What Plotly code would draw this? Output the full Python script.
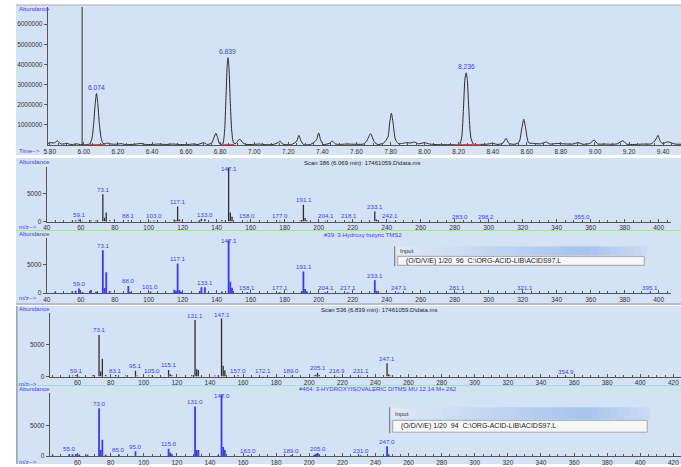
import plotly.graph_objects as go

W, H = 681, 467

# ---------------- DATA ----------------
# Total ion chromatogram (time in min, abundance)
tic_time = [5.790, 5.805, 5.820, 5.835, 5.845, 5.855, 5.870, 5.885, 5.900, 5.915, 5.935, 5.960, 5.980, 6.000,
            6.020, 6.035, 6.048, 6.058, 6.066, 6.074, 6.082, 6.090, 6.100, 6.112, 6.125, 6.140, 6.155, 6.175,
            6.200, 6.220, 6.240, 6.270, 6.300, 6.335, 6.360, 6.400, 6.440, 6.480, 6.520, 6.560, 6.600, 6.640,
            6.670, 6.705, 6.725, 6.750, 6.765, 6.775, 6.785, 6.797, 6.815, 6.826, 6.834, 6.841, 6.846, 6.852,
            6.859, 6.868, 6.879, 6.893, 6.907, 6.917, 6.932, 6.950, 6.990, 7.030, 7.070, 7.110, 7.140, 7.152,
            7.165, 7.185, 7.220, 7.250, 7.262, 7.275, 7.290, 7.330, 7.365, 7.378, 7.390, 7.405, 7.440, 7.458,
            7.475, 7.500, 7.540, 7.600, 7.640, 7.660, 7.683, 7.705, 7.725, 7.760, 7.785, 7.795, 7.805, 7.815,
            7.828, 7.845, 7.870, 7.895, 7.915, 7.940, 7.965, 8.000, 8.030, 8.080, 8.150, 8.205, 8.218, 8.228,
            8.237, 8.244, 8.251, 8.260, 8.271, 8.286, 8.320, 8.360, 8.400, 8.430, 8.460, 8.478, 8.495, 8.530,
            8.555, 8.570, 8.582, 8.594, 8.610, 8.640, 8.680, 8.715, 8.735, 8.780, 8.820, 8.870, 8.900, 8.930,
            8.970, 8.995, 9.015, 9.060, 9.100, 9.130, 9.165, 9.185, 9.230, 9.280, 9.330, 9.355, 9.370, 9.385,
            9.400, 9.425, 9.445, 9.470, 9.505]
tic_abund = [0.08, 0.12, 0.10, 0.15, 0.21, 0.12, 0.05, 0.06, 0.09, 0.04, 0.03, 0.06, 0.02, 0.02,
             0.03, 0.05, 0.35, 1.10, 2.00, 2.56, 2.05, 1.15, 0.40, 0.08, 0.06, 0.10, 0.06, 0.04,
             0.05, 0.07, 0.03, 0.03, 0.04, 0.08, 0.03, 0.03, 0.05, 0.03, 0.05, 0.03, 0.02, 0.05,
             0.03, 0.12, 0.03, 0.10, 0.40, 0.58, 0.38, 0.05, 0.05, 0.70, 2.30, 3.90, 4.33, 3.80,
             2.20, 0.70, 0.10, 0.08, 0.25, 0.28, 0.12, 0.03, 0.03, 0.05, 0.02, 0.03, 0.12, 0.20,
             0.06, 0.02, 0.03, 0.20, 0.48, 0.20, 0.02, 0.03, 0.25, 0.60, 0.25, 0.03, 0.08, 0.20,
             0.06, 0.03, 0.05, 0.04, 0.05, 0.20, 0.57, 0.15, 0.03, 0.10, 0.40, 1.10, 1.58, 1.10,
             0.30, 0.08, 0.08, 0.12, 0.10, 0.15, 0.06, 0.12, 0.05, 0.02, 0.02, 0.03, 0.40, 1.80,
             3.30, 3.58, 3.20, 1.70, 0.40, 0.05, 0.03, 0.04, 0.08, 0.03, 0.10, 0.33, 0.08, 0.04,
             0.15, 0.80, 1.28, 0.80, 0.12, 0.08, 0.06, 0.15, 0.05, 0.08, 0.06, 0.05, 0.12, 0.04,
             0.08, 0.25, 0.06, 0.05, 0.04, 0.06, 0.21, 0.05, 0.03, 0.05, 0.06, 0.25, 0.48, 0.15,
             0.08, 0.16, 0.12, 0.05, 0.04]
tic_abund = [v * 1e6 for v in tic_abund]
tic_peak_labels = ["6.074", "6.839", "8.236"]
tic_integrated = [(6.030, 6.125), (6.815, 6.883), (8.180, 8.330)]
cursor_time = 5.99
tic_yticks = [1000000, 2000000, 3000000, 4000000, 5000000, 6000000]

# Scan 386 spectrum
s386_mz = [45, 55, 57, 59, 61, 66, 69, 70, 73, 74, 75, 77, 88, 101, 103, 115, 116, 117, 118, 119, 129, 130,
           131, 133, 143, 145, 147, 148, 149, 158, 177, 189, 190, 191, 192, 193, 204, 218, 233, 234, 235,
           242, 283, 298, 355]
s386_ab = [150, 200, 250, 350, 150, 250, 200, 150, 4900, 700, 1650, 250, 250, 150, 200, 350, 250, 2700, 350,
           150, 150, 300, 500, 450, 300, 150, 9650, 1650, 850, 150, 150, 200, 250, 3000, 650, 250, 150, 120,
           1800, 350, 200, 120, 100, 100, 80]
s386_labels = ["59.1", "73.1", "88.1", "103.0", "117.1", "133.0", "147.1", "158.0", "177.0", "191.1",
               "204.1", "218.1", "233.1", "242.1", "283.0", "298.2", "355.0"]

# Library hit #39
lib39_mz = [45, 55, 57, 59, 61, 66, 69, 73, 74, 75, 77, 88, 89, 101, 115, 116, 117, 118, 119, 130, 131, 133,
            143, 147, 148, 149, 158, 177, 190, 191, 192, 193, 204, 217, 233, 234, 235, 247, 281, 321, 395]
lib39_ab = [200, 300, 400, 800, 200, 550, 250, 7450, 900, 3600, 350, 1250, 200, 300, 600, 400, 5150, 550, 250,
            300, 1000, 1000, 300, 9150, 1950, 950, 150, 150, 300, 3750, 700, 300, 150, 150, 2250, 400, 250,
            100, 100, 100, 100]
lib39_labels = ["59.0", "73.1", "88.0", "101.0", "117.1", "133.1", "147.1", "158.1", "177.1", "191.1",
                "204.1", "217.1", "233.1", "247.1", "281.1", "321.1", "395.1"]

# Scan 536 spectrum
s536_mz = [55, 57, 59, 61, 69, 70, 73, 74, 75, 77, 83, 89, 95, 96, 103, 105, 115, 116, 117, 129, 131, 132,
           133, 143, 145, 147, 148, 149, 157, 172, 189, 203, 204, 205, 206, 217, 231, 247, 248, 249, 355]
s536_ab = [150, 150, 250, 100, 150, 250, 6550, 800, 2800, 250, 250, 150, 900, 150, 150, 150, 1050, 350, 200,
           200, 8900, 1150, 1050, 150, 150, 9150, 1700, 1000, 200, 100, 120, 150, 300, 600, 250, 100, 120,
           2100, 350, 150, 80]
s536_labels = ["59.1", "73.1", "83.1", "95.1", "105.0", "115.1", "131.1", "147.1", "157.0", "172.1",
               "189.0", "205.1", "216.9", "231.1", "247.1", "354.9"]

# Library hit #464
lib464_mz = [45, 55, 57, 59, 61, 66, 73, 74, 75, 77, 85, 95, 115, 116, 117, 131, 132, 133, 145, 147, 148,
             149, 163, 189, 203, 204, 205, 206, 231, 247, 248]
lib464_ab = [150, 350, 300, 350, 250, 250, 7750, 1000, 2650, 200, 250, 800, 1200, 550, 300, 8050, 1000, 1000,
             150, 9999, 1450, 1000, 150, 150, 200, 350, 500, 300, 150, 1600, 300]
lib464_labels = ["55.0", "73.0", "85.0", "95.0", "115.0", "131.0", "147.0", "163.0", "189.0", "205.0",
                 "231.0", "247.0"]

spec_yticks = [0, 5000]

# ---------------- STYLE / LAYOUT ----------------
BG = "#d4e2f6"
BLUE_TXT = "#3c3cf0"
BLUE_BAR = "#3a3af5"
DARK_BAR = "#2e2e2e"
FONT = "Liberation Sans, Arial, sans-serif"
TICK_SIZE = 6.5
PEAK_SIZE = 6.2


def PX(x):
    return x / W


def PY(y):
    return 1 - y / H


# panel geometry in pixels: x-domain, y-domain (top, bottom), x-range, y-range
panels = [
    dict(xd=(44, 681), yd=(7, 146), xr=(5.788, 9.505), yr=(0, 6.85e6)),
    dict(xd=(43, 671), yd=(168, 223), xr=(40, 407.3), yr=(0, 9820)),
    dict(xd=(43, 671), yd=(240, 295), xr=(40, 407.3), yr=(0, 9480)),
    dict(xd=(46, 681), yd=(315, 379), xr=(43.2, 424.6), yr=(0, 10000)),
    dict(xd=(46, 681), yd=(396, 459), xr=(43.2, 424.6), yr=(0, 10160)),
]

fig = go.Figure()
layout = dict(width=W, height=H, margin=dict(l=0, r=0, t=0, b=0), paper_bgcolor="white",
              plot_bgcolor="rgba(0,0,0,0)", showlegend=False,
              font=dict(family=FONT, size=7, color="#333"))

for i, p in enumerate(panels):
    n = "" if i == 0 else str(i + 1)
    xa = dict(domain=[PX(p["xd"][0]), PX(p["xd"][1])], range=list(p["xr"]), anchor="y" + n,
              showline=True, linecolor="#555", linewidth=1, showgrid=False, zeroline=False,
              ticks="inside", ticklen=3, tickcolor="#555", tickwidth=1,
              tickfont=dict(size=TICK_SIZE, color="#333", family=FONT), fixedrange=True)
    ya = dict(domain=[PY(p["yd"][1]), PY(p["yd"][0])], range=list(p["yr"]), anchor="x" + n,
              showline=True, linecolor="#555", linewidth=1, showgrid=False, zeroline=False,
              ticks="outside", ticklen=3, tickcolor="#555",
              tickfont=dict(size=TICK_SIZE, color="#333", family=FONT), fixedrange=True)
    if i == 0:
        xa.update(tick0=5.8, dtick=0.2, tickformat=".2f",
                  minor=dict(ticks="inside", ticklen=2, dtick=0.05, tick0=5.8, tickcolor="#555"))
        ya.update(tickvals=tic_yticks, ticktext=[str(v) for v in tic_yticks])
    else:
        xa.update(tick0=0, dtick=20,
                  minor=dict(ticks="inside", ticklen=2, dtick=5, tick0=0, tickcolor="#555"))
        ya.update(tickvals=spec_yticks, ticktext=[str(v) for v in spec_yticks])
    layout["xaxis" + n] = xa
    layout["yaxis" + n] = ya

shapes = []
annotations = []


def rect(x0, y0, x1, y1, fill, line=None):
    shapes.append(dict(type="rect", xref="paper", yref="paper", x0=PX(x0), x1=PX(x1), y0=PY(y1), y1=PY(y0),
                       fillcolor=fill, line=dict(width=0) if line is None else line, layer="below"))


def hline(x0, x1, y, color, width=1):
    shapes.append(dict(type="line", xref="paper", yref="paper", x0=PX(x0), x1=PX(x1), y0=PY(y), y1=PY(y),
                       line=dict(color=color, width=width), layer="below"))


def vline(x, y0, y1, color, width=1):
    shapes.append(dict(type="line", xref="paper", yref="paper", x0=PX(x), x1=PX(x), y0=PY(y0), y1=PY(y1),
                       line=dict(color=color, width=width), layer="below"))


def text(x, y, s, color="#222", size=6, xanchor="left"):
    annotations.append(dict(xref="paper", yref="paper", x=PX(x), y=PY(y), text=s, showarrow=False,
                            xanchor=xanchor, yanchor="middle", font=dict(size=size, color=color, family=FONT)))


# backgrounds
rect(12, 5, 681, 156, BG)
rect(12, 148, 681, 156, "#d9e3f1")
rect(12, 159, 681, 305, BG)
rect(12, 305, 681, 307, "#b8bcc4")
rect(12, 308, 681, 467, BG)
hline(12, 681, 5, "#a8b0bc")
hline(12, 681, 232, "#9fe6a6", 1.2)
hline(12, 681, 388, "#9fe6a6", 1.2)
vline(13, 308, 467, "#7a7f88")

# panel labels
for (yy) in [9, 163, 236, 311, 392]:
    text(13, yy, "Abundance", BLUE_TXT, 6)
text(13, 152, "Time-->", BLUE_TXT, 6)
for yy in [228, 300, 386, 465]:
    text(13, yy, "m/z-->", BLUE_TXT, 6)

text(300, 164, "Scan 386 (6.069 min): 17461059.D\\data.ms", "#222", 6)
text(320, 237, "#39: 3-Hydroxy butyric TMS2", BLUE_TXT, 6)
text(317, 312, "Scan 536 (6.839 min): 17461059.D\\data.ms", "#222", 6)
text(295, 392, "#464: 3-HYDROXYISOVALERIC DITMS MU 12.14 M+ 262", BLUE_TXT, 6)

# ---- TIC ----
fig.add_trace(go.Scatter(x=tic_time, y=tic_abund, mode="lines", line=dict(color="#2a2a2a", width=1, shape="spline",
                                                                            smoothing=0.6),
                         xaxis="x", yaxis="y", hoverinfo="skip"))
bx, by = [], []
for a, b in tic_integrated:
    bx += [a, b, None]
    by += [0.02e6, 0.02e6, None]
fig.add_trace(go.Scatter(x=bx, y=by, mode="lines", line=dict(color="#e04848", width=1.5), xaxis="x", yaxis="y",
                         hoverinfo="skip"))
shapes.append(dict(type="line", xref="x", yref="y domain", x0=cursor_time, x1=cursor_time, y0=0, y1=1,
                   line=dict(color="#333", width=1)))

p0 = panels[0]
ppu0 = (p0["yd"][1] - p0["yd"][0]) / p0["yr"][1]
for lbl in tic_peak_labels:
    t = float(lbl)
    cand = [(a, tt) for tt, a in zip(tic_time, tic_abund) if abs(tt - t) < 0.02]
    a, tt = max(cand)
    annotations.append(dict(xref="x", yref="y", x=tt, y=a + 6 / ppu0, text=lbl, showarrow=False,
                            yanchor="middle", font=dict(size=PEAK_SIZE + 0.5, color=BLUE_TXT, family=FONT)))


# ---- spectra ----
def spectrum(idx, mz, ab, labels, color, width):
    n = str(idx + 1)
    xs, ys = [], []
    for m, v in zip(mz, ab):
        xs += [m, m, None]
        ys += [0, v, None]
    fig.add_trace(go.Scatter(x=xs, y=ys, mode="lines", line=dict(color=color, width=width),
                             xaxis="x" + n, yaxis="y" + n, hoverinfo="skip"))
    p = panels[idx]
    ymax = p["yr"][1]
    ppu = (p["yd"][1] - p["yd"][0]) / ymax
    lookup = dict(zip(mz, ab))
    for lbl in labels:
        xv = float(lbl)
        v = lookup.get(int(round(xv)), 0)
        yc = min(v + 5 / ppu, ymax - 2 / ppu)
        annotations.append(dict(xref="x" + n, yref="y" + n, x=xv, y=yc, text=lbl, showarrow=False,
                                yanchor="middle", font=dict(size=PEAK_SIZE, color=BLUE_TXT, family=FONT)))


spectrum(1, s386_mz, s386_ab, s386_labels, DARK_BAR, 1.3)
spectrum(2, lib39_mz, lib39_ab, lib39_labels, BLUE_BAR, 1.8)
spectrum(3, s536_mz, s536_ab, s536_labels, DARK_BAR, 1.3)
spectrum(4, lib464_mz, lib464_ab, lib464_labels, BLUE_BAR, 1.8)


# ---- Input boxes ----
def lerp(c1, c2, f):
    return tuple(int(round(a + (b - a) * f)) for a, b in zip(c1, c2))


def input_box(x0, x1, yt, ym, yb, msg):
    stops = [(0.0, (224, 233, 246)), (0.75, (166, 195, 236)), (1.0, (204, 220, 243))]
    nseg = 40
    for k in range(nseg):
        f = (k + 0.5) / nseg
        for (f0, c0), (f1, c1) in zip(stops[:-1], stops[1:]):
            if f0 <= f <= f1:
                c = lerp(c0, c1, (f - f0) / (f1 - f0))
                break
        xa = x0 + (x1 - x0) * k / nseg
        xb = x0 + (x1 - x0) * (k + 1) / nseg + 0.6
        rect(xa, yt, min(xb, x1), ym, "rgb(%d,%d,%d)" % c)
    rect(x0 + 3, ym + 1, x1 - 3, yb - 1, "#f7f7f7", dict(color="#a0a4aa", width=1))
    vline(x0, yt, yb, "#6b7078")
    text(x0 + 3, (yt + ym) / 2 + 0.5, "Input", "#333", 6)
    text(x0 + 9, (ym + yb) / 2, msg, "#222", 7)


input_box(393, 647, 248, 257, 268, "(O/D/V/E) 1/20&nbsp;&nbsp;96&nbsp;&nbsp;C:\\ORG-ACID-LIB\\ACIDS97.L")
input_box(388, 650, 410, 422, 436, "(O/D/V/E) 1/20&nbsp;&nbsp;94&nbsp;&nbsp;C:\\ORG-ACID-LIB\\ACIDS97.L")

layout["shapes"] = shapes
layout["annotations"] = annotations
fig.update_layout(**layout)
fig.write_html("out.html", config={"displayModeBar": False},
               post_script="document.body.style.margin='0';document.body.style.overflow='hidden';")
